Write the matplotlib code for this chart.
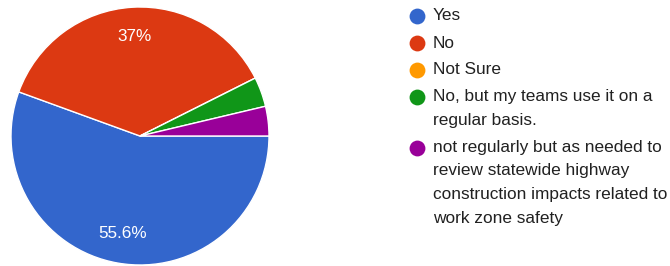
import matplotlib.pyplot as plt

# --- data ---
labels = ["Yes", "No", "Not Sure", "No, but my teams use it on a regular basis.",
          "not regularly but as needed to review statewide highway construction impacts related to work zone safety"]
legend_lines = [["Yes"], ["No"], ["Not Sure"],
                ["No, but my teams use it on a", "regular basis."],
                ["not regularly but as needed to", "review statewide highway",
                 "construction impacts related to", "work zone safety"]]
counts = [15, 10, 0, 1, 1]
colors = ["#3366cc", "#dc3912", "#ff9900", "#109618", "#990099"]

plt.rcParams['font.family'] = ['Liberation Sans', 'DejaVu Sans']
W, H = 670, 266
fig = plt.figure(figsize=(W / 100, H / 100), dpi=100)

# --- pie ---
cx, cy, r = 140, 136, 129
ax = fig.add_axes([(cx - r) / W, (H - cy - r) / H, 2 * r / W, 2 * r / H])


def pct(p):
    return f"{p:.1f}%".replace(".0%", "%") if p > 5 else ""


wedges, texts, autotexts = ax.pie(
    counts, colors=colors, startangle=0, counterclock=False,
    autopct=pct, pctdistance=0.77,
    wedgeprops=dict(edgecolor="white", linewidth=1),
    textprops=dict(color="white", fontsize=12.3))
ax.set_xlim(-1.0, 1.0)
ax.set_ylim(-1.0, 1.0)
ax.set_aspect("equal")

# --- legend ---
lax = fig.add_axes([0, 0, 1, 1])
lax.set_xlim(0, W)
lax.set_ylim(H, 0)
lax.axis("off")
entry_y = 16
for lines, c in zip(legend_lines, colors):
    lax.scatter([417], [entry_y], s=130, color=c, linewidths=0)
    for k, line in enumerate(lines):
        lax.text(433, entry_y + k * 23.5, line, fontsize=12.4, color="#212121",
                 va="center", ha="left")
    entry_y += (len(lines) - 1) * 23.5 + 27

fig.savefig("out.png", dpi=100)
